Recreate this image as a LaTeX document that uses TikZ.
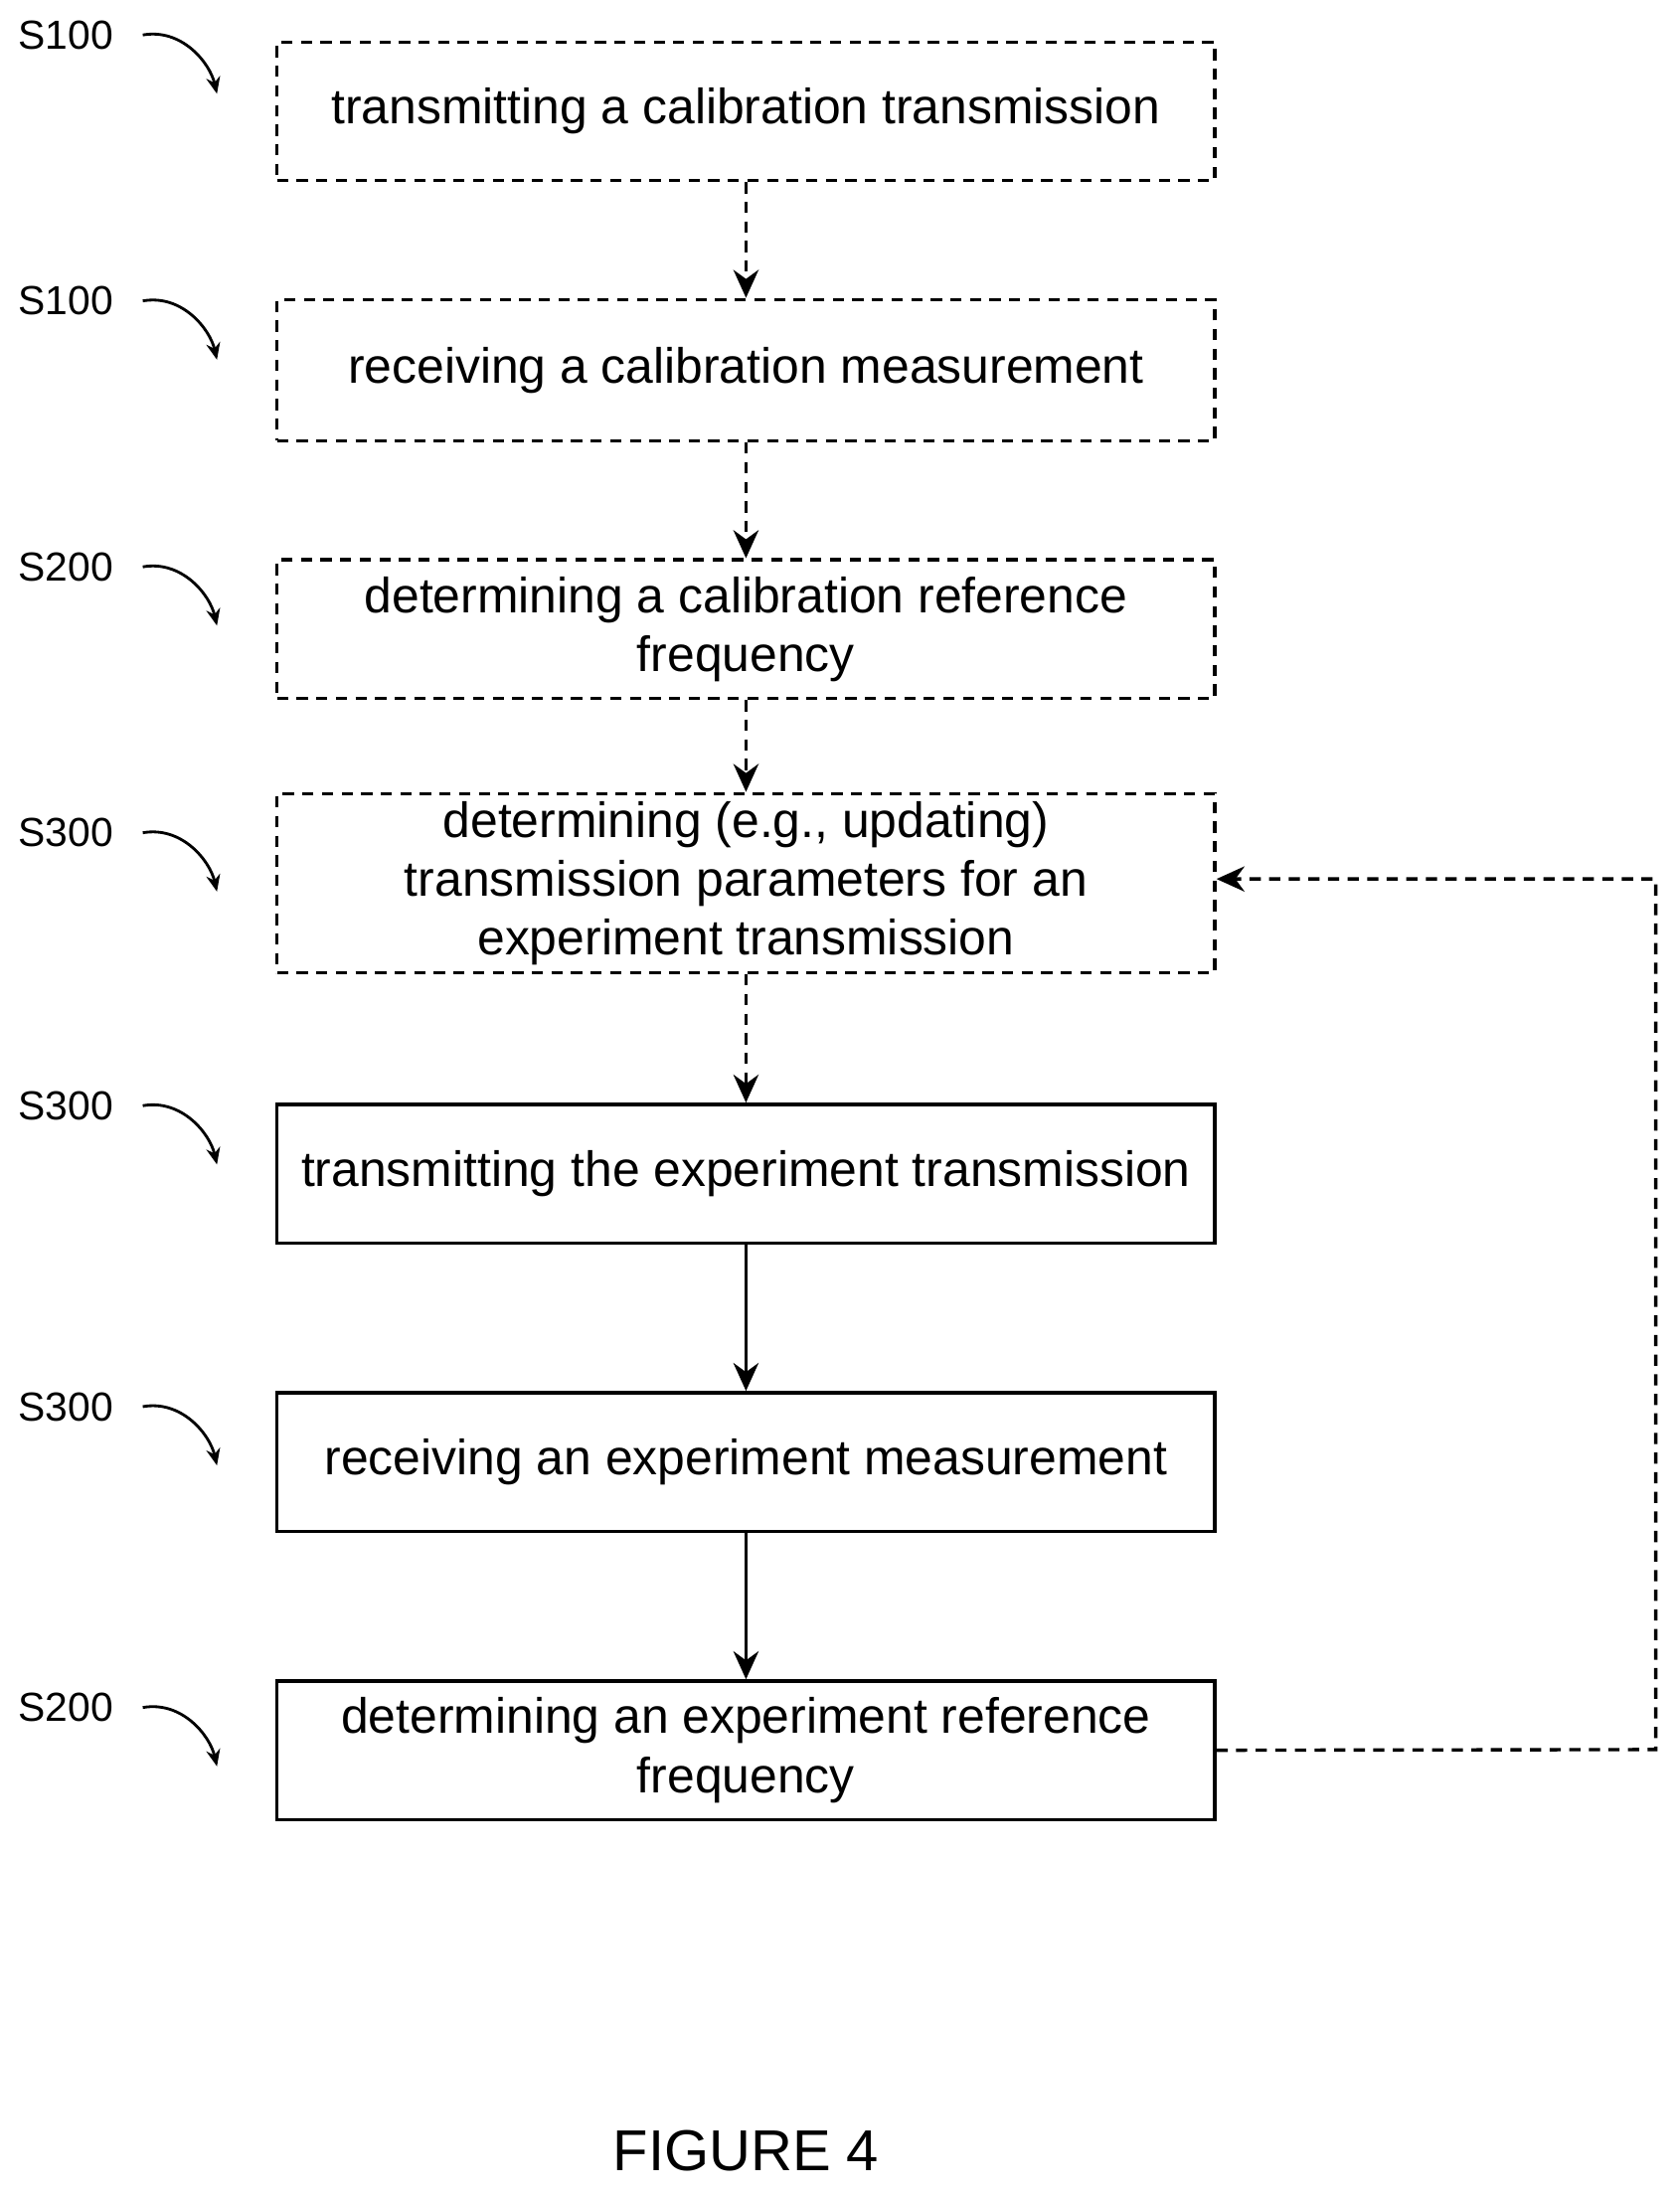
\documentclass[tikz,border=0pt]{standalone}
\usepackage{fontspec}
\setmainfont{Liberation Sans}
\usetikzlibrary{arrows.meta}
\begin{document}
\begin{tikzpicture}[x=0.5pt,y=-0.5pt,
 box/.style={draw,line width=1.2pt,minimum width=335pt,align=center,font=\fontsize{17.7}{21}\selectfont,inner sep=0pt},
 dbox/.style={box,dash pattern=on 4pt off 3pt},
 lab/.style={font=\fontsize{14.5}{16}\selectfont},
 arr/.style={-{Stealth[length=10pt,width=9pt]},line width=1.2pt},
 darr/.style={arr,dash pattern=on 4pt off 3pt},
 curv/.style={-{Stealth[length=6pt,width=5pt]},line width=1pt}]
\useasboundingbox (0,0) rectangle (1200,1569);
\node[dbox,minimum height=49.5pt] (b1) at (533,79.5) {transmitting a calibration transmission};
\node[dbox,minimum height=50.5pt] (b2) at (533,264.5) {receiving a calibration measurement};
\node[dbox,minimum height=49.5pt] (b3) at (533,449.5) {determining a calibration reference\\frequency};
\node[dbox,minimum height=64pt] (b4) at (533,631) {determining (e.g., updating)\\transmission parameters for an\\experiment transmission};
\node[box,minimum height=49.5pt] (b5) at (533,838.5) {transmitting the experiment transmission};
\node[box,minimum height=49.5pt] (b6) at (533,1044.5) {receiving an experiment measurement};
\node[box,minimum height=49.5pt] (b7) at (533,1250.5) {determining an experiment reference\\frequency};
\draw[darr] (b1) -- (b2);
\draw[darr] (b2) -- (b3);
\draw[darr] (b3) -- (b4);
\draw[darr] (b4) -- (b5);
\draw[arr] (b5) -- (b6);
\draw[arr] (b6) -- (b7);
\coordinate (c1) at (1183,1250);
\coordinate (c2) at (1183,628);
\draw[darr] (b7.east) -- (c1) -- (c2) -- (b4.east |- c2);
\foreach \n/\t/\y in {l1/S100/25,l2/S100/215,l3/S200/405,l4/S300/595,l5/S300/790,l6/S300/1005,l7/S200/1220}{
 \node[lab] (\n) at (47,\y) {\t};
 \coordinate (\n a) at (102,\y);
 \coordinate (\n b) at (155,\y+42);
 \draw[curv] (\n a) .. controls (130,\y-5) and (150,\y+20) .. (\n b);
}
\node[font=\fontsize{20.6}{24}\selectfont] (fig) at (533,1537) {FIGURE 4};
\end{tikzpicture}
\end{document}
